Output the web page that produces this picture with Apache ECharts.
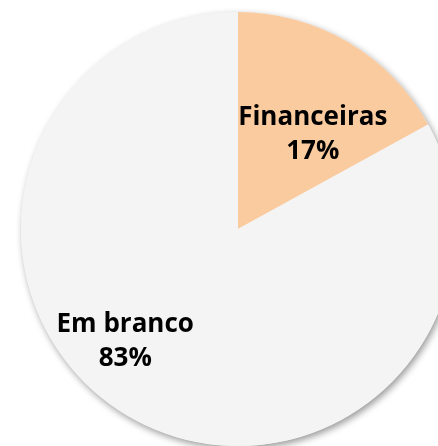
<!DOCTYPE html>
<html>
<head>
<meta charset="utf-8">
<script src="https://cdn.jsdelivr.net/npm/echarts@6/dist/echarts.min.js"></script>
<style>
  html, body { margin: 0; padding: 0; background: #fff; }
  #chart { width: 438px; height: 446px; }
</style>
</head>
<body>
<div id="chart"></div>
<script>
var categories = ['Financeiras', 'Em branco'];
var values = [17, 83];
var colors = ['#FBCBA0', '#F4F4F4'];

// nudges so labels sit where the original has them
var labelShift = [[18, 2], [-56, 17]];

var myChart = echarts.init(document.getElementById('chart'));
myChart.setOption({
    animation: false,
    series: [{
        // plain disc underneath, only there to carry the soft shadow
        type: 'pie',
        silent: true,
        z: 1,
        center: [238, 229],
        radius: 217,
        label: { show: false },
        labelLine: { show: false },
        data: [{ value: 1, itemStyle: { color: '#F4F4F4' } }],
        itemStyle: {
            shadowBlur: 7,
            shadowOffsetX: 2,
            shadowOffsetY: 3,
            shadowColor: 'rgba(0,0,0,0.4)'
        },
        emphasis: { disabled: true },
        tooltip: { show: false }
    }, {
        type: 'pie',
        z: 2,
        center: [238, 229],
        radius: 217,
        startAngle: 90,
        clockwise: true,
        data: categories.map(function (c, i) {
            return { name: c, value: values[i], itemStyle: { color: colors[i] } };
        }),
        itemStyle: { borderWidth: 0 },
        label: {
            show: true,
            position: 'inside',
            formatter: '{b}\n{d}%',
            fontFamily: 'Open Sans',
            fontWeight: 'bold',
            fontSize: 26,
            lineHeight: 34,
            color: '#000'
        },
        labelLayout: function (params) {
            var s = labelShift[params.dataIndex];
            return { dx: s[0], dy: s[1] };
        },
        emphasis: { disabled: true }
    }]
});
</script>
</body>
</html>
